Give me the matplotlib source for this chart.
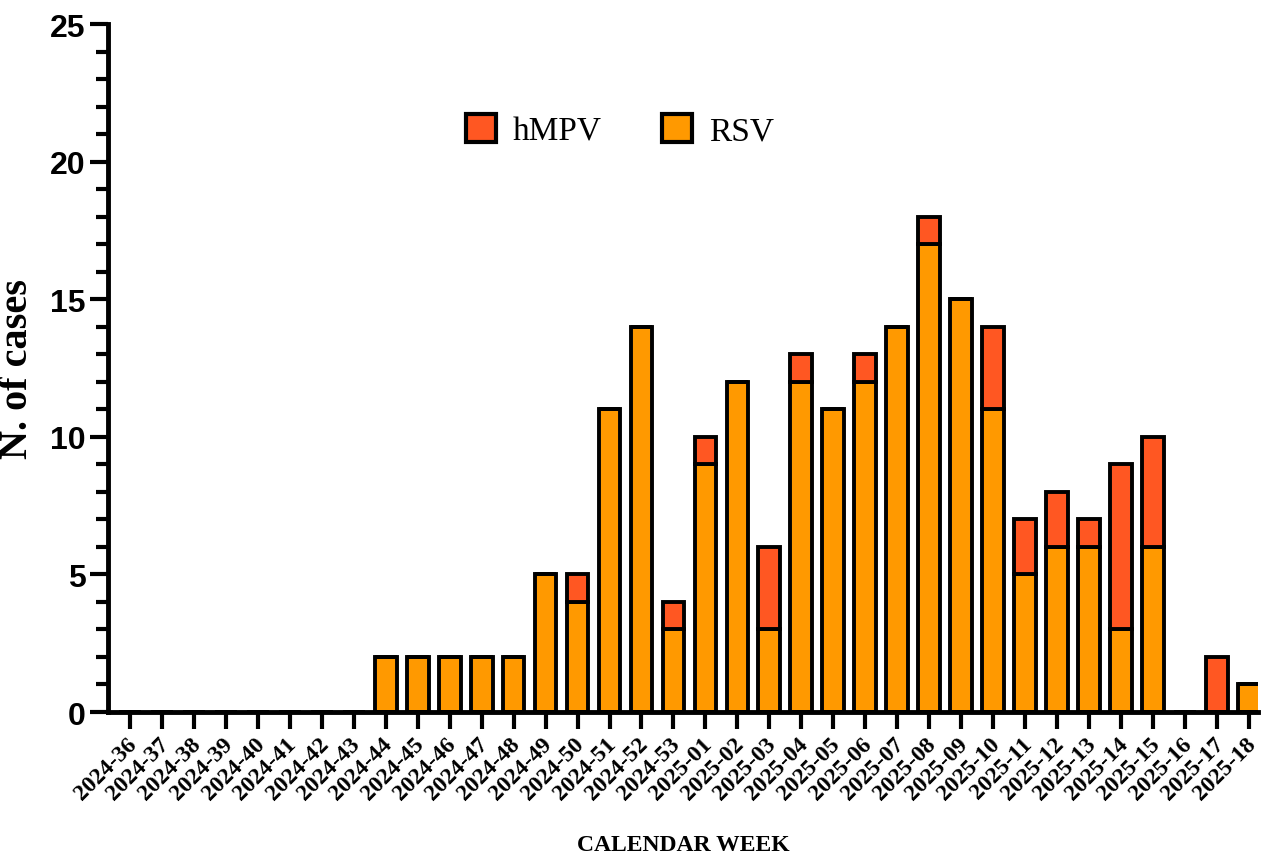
import matplotlib
matplotlib.use("Agg")
import matplotlib.pyplot as plt
from matplotlib.ticker import MultipleLocator
from matplotlib.patches import Patch
from matplotlib.transforms import ScaledTranslation

weeks = [f"2024-{w}" for w in range(36, 54)] + [f"2025-{w:02d}" for w in range(1, 19)]
rsv = [0, 0, 0, 0, 0, 0, 0, 0, 2, 2, 2, 2, 2, 5, 4, 11, 14, 3,
       9, 12, 3, 12, 11, 12, 14, 17, 15, 11, 5, 6, 6, 3, 6, 0, 0, 1]
hmpv = [0, 0, 0, 0, 0, 0, 0, 0, 0, 0, 0, 0, 0, 0, 1, 0, 0, 1,
        1, 0, 3, 1, 0, 1, 0, 1, 0, 3, 2, 2, 1, 6, 4, 0, 2, 0]

c_rsv = "#FF9900"
c_hmpv = "#FF5722"

fig = plt.figure(figsize=(12.61, 8.54), dpi=100)
ax = fig.add_axes([0.0856, 0.1651, 0.9124, 0.8056])

x = list(range(len(weeks)))
w = 0.68
ax.bar(x, rsv, width=w, color=c_rsv, edgecolor="black", linewidth=2.8, zorder=2)
ax.bar(x, hmpv, bottom=rsv, width=w, color=c_hmpv, edgecolor="black", linewidth=2.8, zorder=2)

ax.set_xlim(-0.69, 35.3)
ax.set_ylim(0, 25)
for s in ["top", "right"]:
    ax.spines[s].set_visible(False)
for s in ["left", "bottom"]:
    ax.spines[s].set_linewidth(3.5)

ax.yaxis.set_major_locator(MultipleLocator(5))
ax.yaxis.set_minor_locator(MultipleLocator(1))
ax.tick_params(axis="y", which="major", length=13, width=3, direction="out", pad=3)
ax.tick_params(axis="y", which="minor", length=9, width=3, direction="out")
ax.tick_params(axis="x", which="major", length=12, width=3, direction="out", pad=3)
for lab in ax.get_yticklabels():
    lab.set_fontfamily("Liberation Sans")
    lab.set_fontweight("bold")
    lab.set_fontsize(23)

ax.set_xticks(x)
ax.set_xticklabels(weeks, rotation=45, ha="right", rotation_mode="anchor",
                   fontfamily="Liberation Serif", fontsize=17, fontweight="bold")
off = ScaledTranslation(-4 / 100, 0, fig.dpi_scale_trans)
for lab in ax.get_xticklabels():
    lab.set_transform(lab.get_transform() + off)

ax.set_ylabel("N. of cases", fontfamily="Liberation Serif", fontweight="bold", fontsize=29, labelpad=10)
ax.set_xlabel("CALENDAR WEEK", fontfamily="Liberation Serif", fontweight="bold", fontsize=17, labelpad=22)

handles = [Patch(facecolor=c_hmpv, edgecolor="black", linewidth=3, label="hMPV"),
           Patch(facecolor=c_rsv, edgecolor="black", linewidth=3, label="RSV")]
ax.legend(handles=handles, loc="center", bbox_to_anchor=(0.445, 0.845), ncol=2, frameon=False,
          prop={"family": "Liberation Serif", "size": 24}, handlelength=0.9, handleheight=0.9,
          columnspacing=1.8, handletextpad=0.5)

fig.savefig("out.png", dpi=100)
